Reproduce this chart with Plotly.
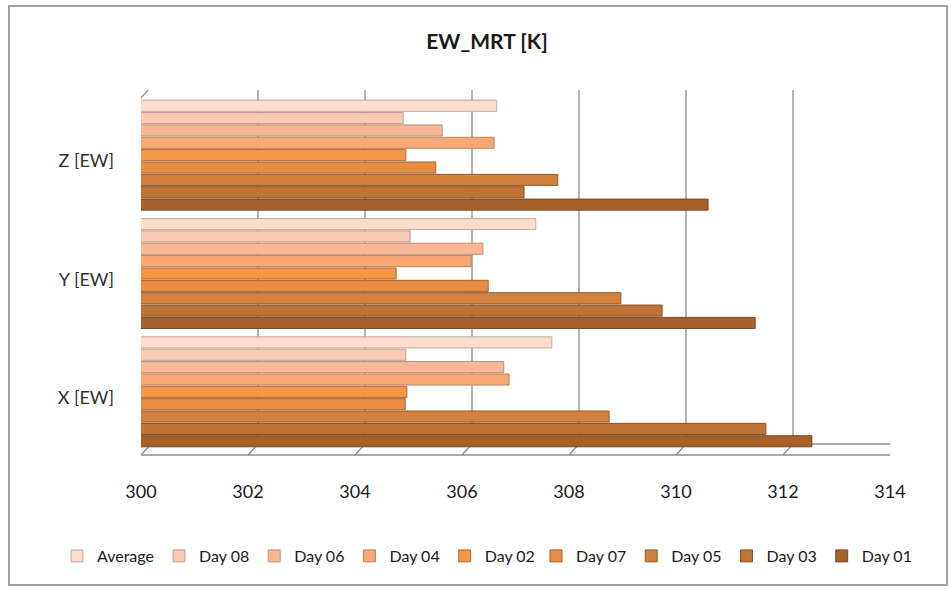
import plotly.graph_objects as go

categories = ["X [EW]", "Y [EW]", "Z [EW]"]
series_names = ["Day 01", "Day 03", "Day 05", "Day 07", "Day 02", "Day 04", "Day 06", "Day 08", "Average"]
series_colors = ["#A6622C", "#BF7335", "#D2813D", "#E88C42", "#F79646", "#F8A775", "#F9B895", "#FAC9B1", "#FCDCCB"]
series_edges = ["#6E3E18", "#7E4A20", "#8A5226", "#9A5A28", "#A8642E", "#B07A58", "#B08A76", "#B29A8C", "#B8A49A"]
series_legend = ["legend2", "legend2", "legend2", "legend2", "legend", "legend", "legend", "legend", "legend"]

day01 = [312.54, 311.48, 310.60]
day03 = [311.68, 309.74, 307.16]
day05 = [308.75, 308.97, 307.79]
day07 = [304.94, 306.49, 305.51]
day02 = [304.97, 304.77, 304.95]
day04 = [306.88, 306.17, 306.60]
day06 = [306.78, 306.39, 305.63]
day08 = [304.95, 305.03, 304.90]
average = [307.68, 307.38, 306.65]
series_values = [day01, day03, day05, day07, day02, day04, day06, day08, average]

x_ticks = [300, 302, 304, 306, 308, 310, 312, 314]
x_min, x_max = 300, 314

FONT = "Lato, 'Liberation Sans', sans-serif"
W, H = 951, 589
ML, MR, MT, MB = 141, 61, 96, 138
PW = W - ML - MR
PH = H - MT - MB
DX, DY = 10, 11  # depth offset of back wall

fig = go.Figure()
for name, vals, col, edge, lg in zip(series_names, series_values, series_colors, series_edges, series_legend):
    fig.add_trace(go.Bar(
        y=categories, x=vals, name=name, orientation="h", legend=lg,
        marker=dict(color=col, line=dict(color=edge, width=0.9)),
    ))

shapes = []
grid = dict(color="#8C8C8C", width=1.3)
# back wall gridlines
for v in x_ticks[1:]:
    shapes.append(dict(type="line", layer="below", xref="x", xsizemode="pixel", xanchor=v,
                       x0=DX, x1=DX, yref="paper", ysizemode="pixel", yanchor=0,
                       y0=DY - 4, y1=PH + 6, line=grid))
# floor slants
for v in x_ticks:
    shapes.append(dict(type="line", layer="below", xref="x", xsizemode="pixel", xanchor=v,
                       x0=0, x1=DX, yref="paper", ysizemode="pixel", yanchor=0,
                       y0=-4, y1=DY - 4, line=grid))
# floor front edge
shapes.append(dict(type="line", layer="below", xref="x", x0=x_min, x1=x_max,
                   yref="paper", ysizemode="pixel", yanchor=0, y0=-4, y1=-4, line=grid))
# floor back edge
shapes.append(dict(type="line", layer="below", xref="x", xsizemode="pixel", xanchor=x_min,
                   x0=DX, x1=DX + PW, yref="paper", ysizemode="pixel", yanchor=0,
                   y0=DY - 4, y1=DY - 4, line=grid))
# left wall
shapes.append(dict(type="line", layer="below", xref="x", xsizemode="pixel", xanchor=x_min,
                   x0=-3, x1=-3, yref="paper", ysizemode="pixel", yanchor=0,
                   y0=-4, y1=PH - 5, line=grid))
shapes.append(dict(type="line", layer="below", xref="x", xsizemode="pixel", xanchor=x_min,
                   x0=-3, x1=DX - 3, yref="paper", ysizemode="pixel", yanchor=0,
                   y0=PH - 5, y1=PH + 6, line=grid))
# outer chart border
shapes.append(dict(type="rect", xref="paper", xsizemode="pixel", xanchor=0,
                   x0=9 - ML, x1=947 - ML, yref="paper", ysizemode="pixel", yanchor=0,
                   y0=(H - MB) - 585, y1=(H - MB) - 6, line=dict(color="#A0A0A0", width=2)))

legend_common = dict(orientation="h", traceorder="reversed", xanchor="left",
                     yref="container", y=1 - 539 / H, yanchor="top",
                     font=dict(family=FONT, size=16, color="#1A1A1A"),
                     itemwidth=30, tracegroupgap=0, bgcolor="rgba(0,0,0,0)")

fig.update_layout(
    width=W, height=H,
    margin=dict(l=ML, r=MR, t=MT, b=MB, autoexpand=False),
    paper_bgcolor="white", plot_bgcolor="white",
    barmode="group", bargap=0.06, bargroupgap=0.1,
    title=dict(text="<b>EW_MRT [K]</b>", x=487 / W, xref="container", xanchor="center",
               y=1 - 42 / H, yanchor="middle",
               font=dict(family=FONT, size=21, color="#1A1A1A")),
    font=dict(family=FONT, color="#1A1A1A"),
    xaxis=dict(range=[x_min, x_max], tickvals=x_ticks, showgrid=False, zeroline=False,
               showline=False, ticks="", ticklabelstandoff=28,
               tickfont=dict(family=FONT, size=18, color="#1A1A1A")),
    yaxis=dict(categoryorder="array", categoryarray=categories, showgrid=False,
               showline=False, ticks="", ticklabelstandoff=26, ticklabelshift=6,
               tickfont=dict(family=FONT, size=18, color="#303030")),
    legend=dict(legend_common, xref="container", x=(77 - 20) / W),
    legend2=dict(legend_common, xref="container", x=(556 - 20) / W),
    shapes=shapes,
    showlegend=True,
)

fig.write_html("out.html")
